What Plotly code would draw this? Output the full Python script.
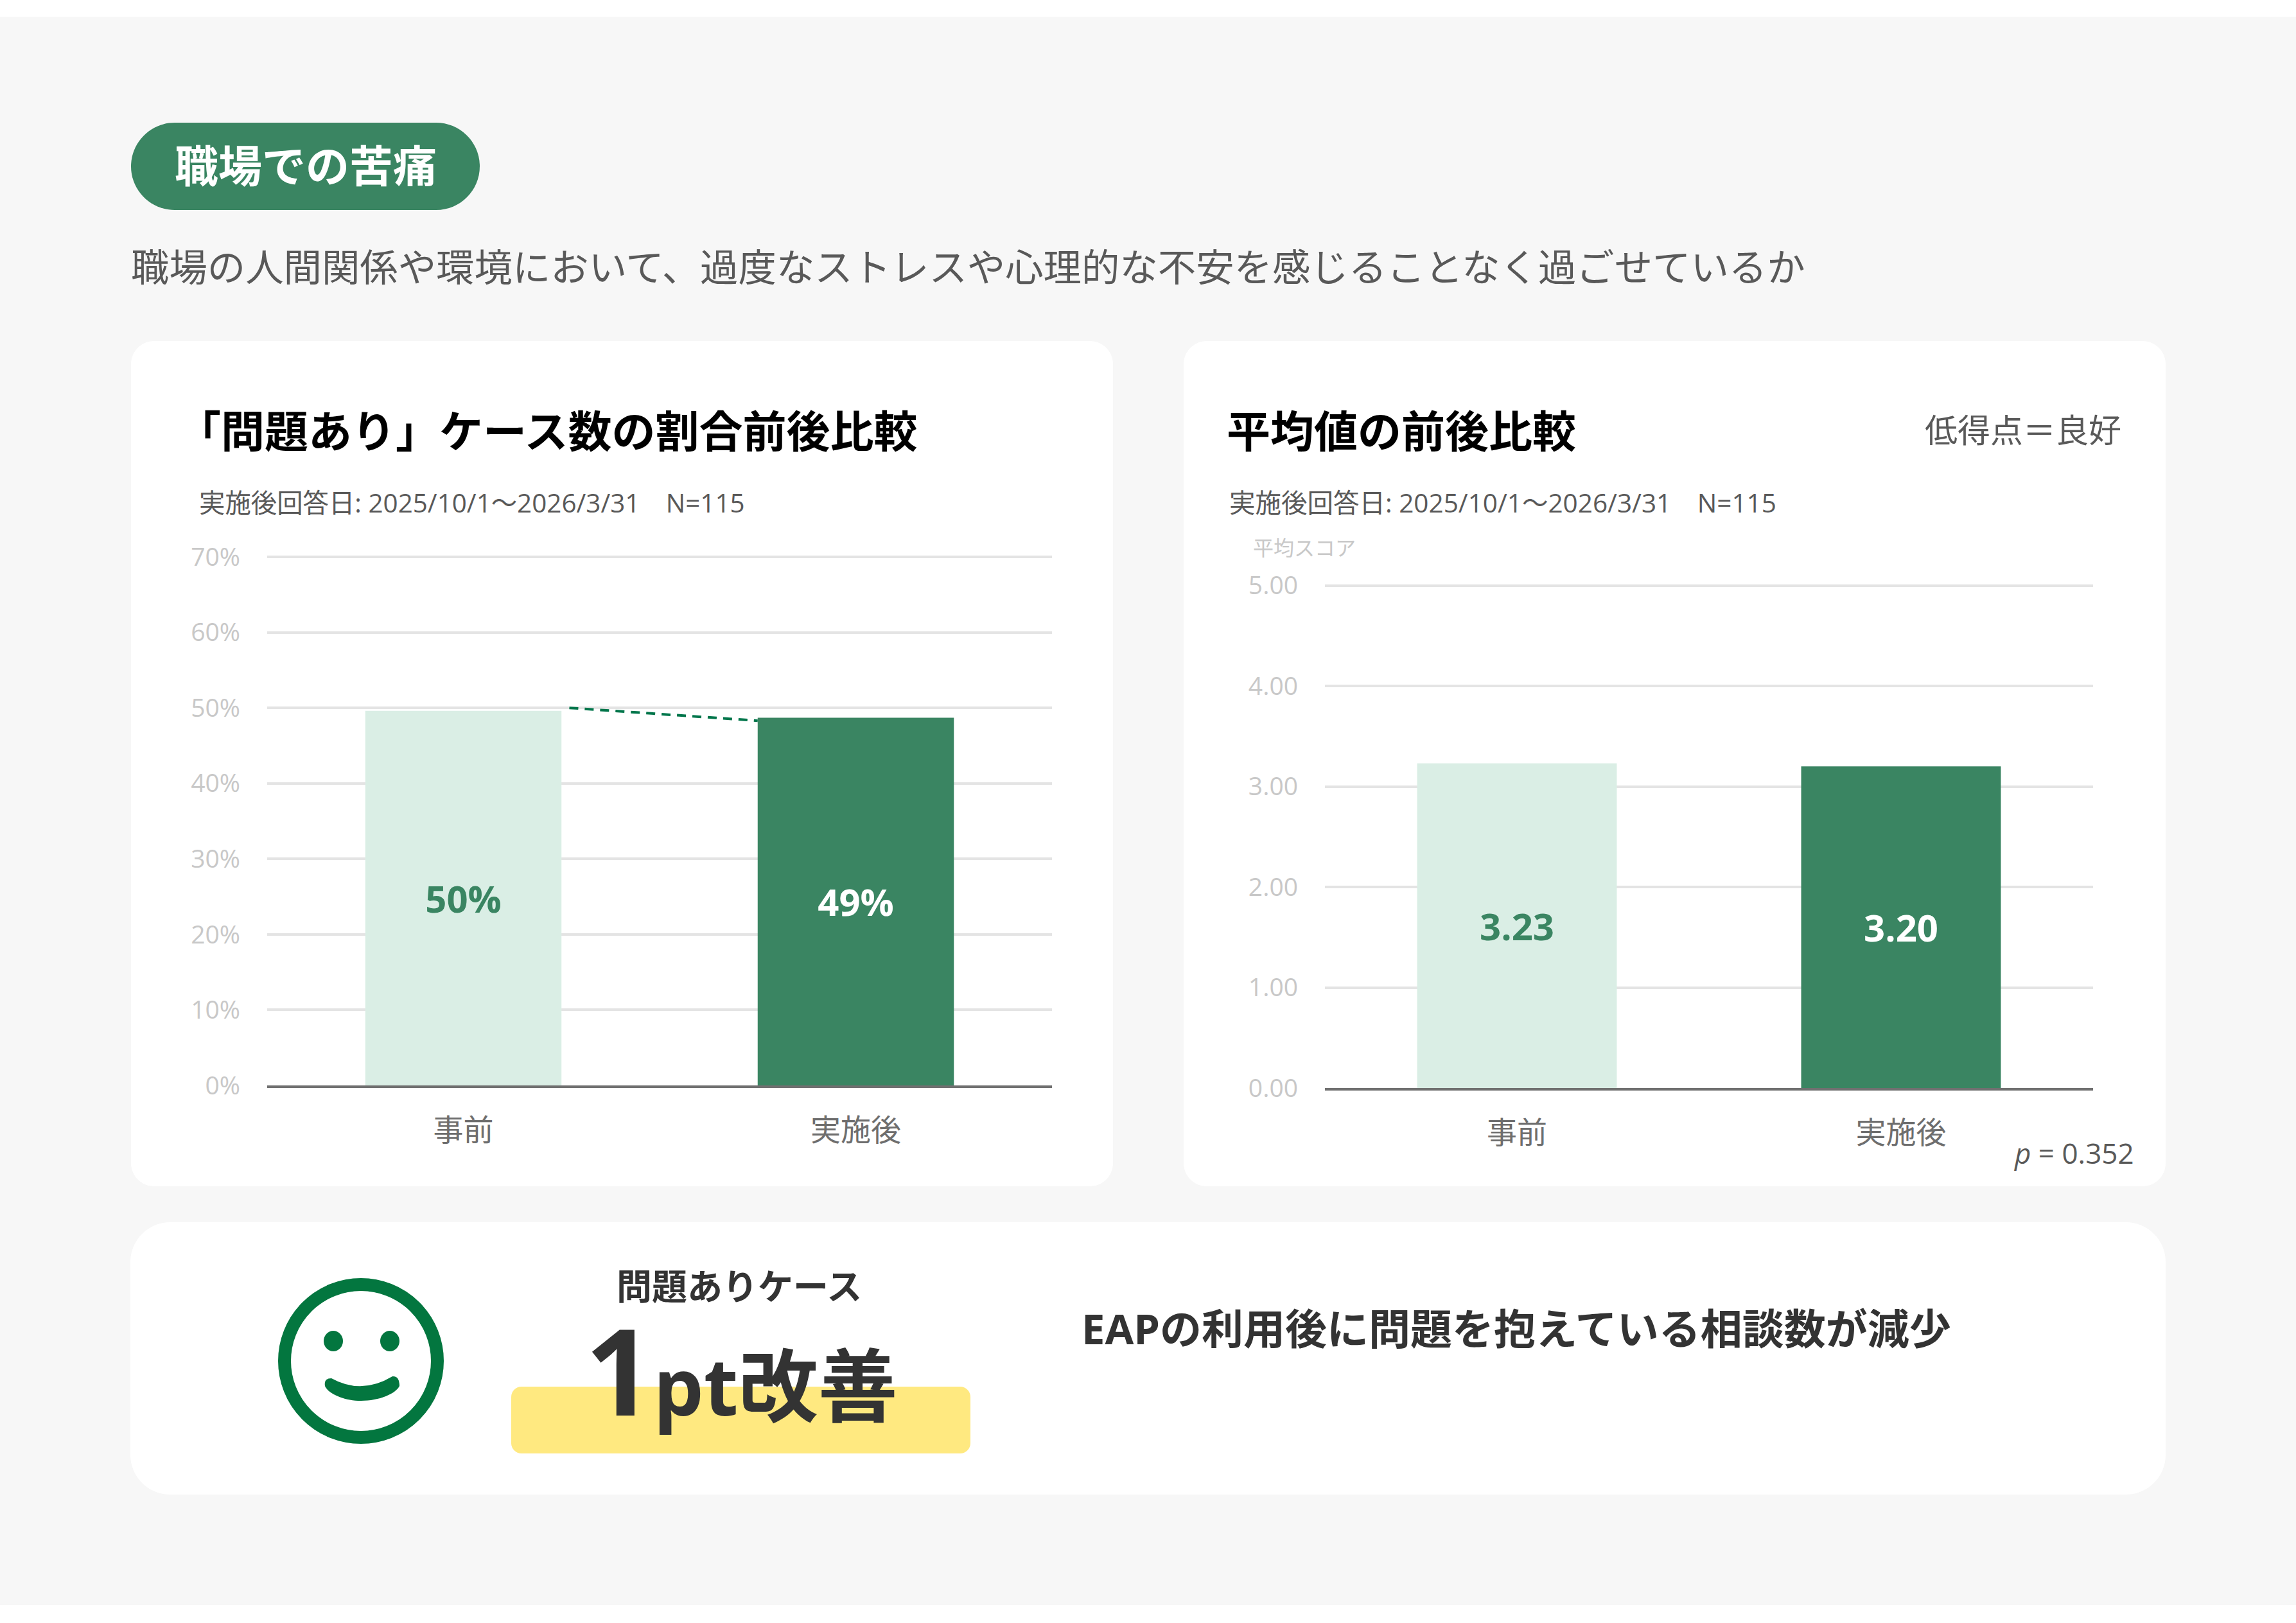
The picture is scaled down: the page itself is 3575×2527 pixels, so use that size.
import plotly.graph_objects as go

W = 3575
H = 2527
FONT = "Open Sans, Noto Sans CJK JP"

# data
categories = ["事前", "実施後"]
bar_positions = [0, 1]

rate_values = [49.6, 48.7]
rate_labels = ["50%", "49%"]
rate_ticks = [0, 10, 20, 30, 40, 50, 60, 70]
rate_ticktext = ["0%", "10%", "20%", "30%", "40%", "50%", "60%", "70%"]

# dashed connector between the two bars
connector_x = [0.27, 0.75]
connector_y = [50.0, 48.3]

mean_values = [3.23, 3.20]
mean_labels = ["3.23", "3.20"]
mean_ticks = [0, 1, 2, 3, 4, 5]
mean_ticktext = ["0.00", "1.00", "2.00", "3.00", "4.00", "5.00"]

LIGHT = "#DAEEE5"
DARK = "#3A8562"
bar_colors = [LIGHT, DARK]
label_colors = [DARK, "#FFFFFF"]


def fx(x):
    return x / W


def fy(y):
    return 1 - y / H


def round_rect(x0, y0, x1, y1, r, color):
    # rounded box given in page pixels, corners as bezier quarter circles
    k = r * 0.448

    def pt(x, y):
        return "%f,%f" % (fx(x), fy(y))

    p = "M " + pt(x0 + r, y0)
    p += " L " + pt(x1 - r, y0)
    p += " C " + pt(x1 - k, y0) + " " + pt(x1, y0 + k) + " " + pt(x1, y0 + r)
    p += " L " + pt(x1, y1 - r)
    p += " C " + pt(x1, y1 - k) + " " + pt(x1 - k, y1) + " " + pt(x1 - r, y1)
    p += " L " + pt(x0 + r, y1)
    p += " C " + pt(x0 + k, y1) + " " + pt(x0, y1 - k) + " " + pt(x0, y1 - r)
    p += " L " + pt(x0, y0 + r)
    p += " C " + pt(x0, y0 + k) + " " + pt(x0 + k, y0) + " " + pt(x0 + r, y0) + " Z"
    return dict(type="path", xref="paper", yref="paper", path=p,
                fillcolor=color, line=dict(width=0), layer="below")


def oval(cx, cy, rx, ry, fill, line_w=0, line_c="rgba(0,0,0,0)"):
    return dict(type="circle", xref="paper", yref="paper",
                x0=fx(cx - rx), x1=fx(cx + rx), y0=fy(cy + ry), y1=fy(cy - ry),
                fillcolor=fill, line=dict(width=line_w, color=line_c), layer="below")


def note(text, x, y, size, color, weight=400, anchor="left", va="middle"):
    return dict(text=text, x=fx(x), y=fy(y), xref="paper", yref="paper",
                xanchor=anchor, yanchor=va, showarrow=False,
                font=dict(family=FONT, size=size, color=color, weight=weight))


GREEN = "#03763F"

# smile drawn as a path, page pixels
pts = [("M", 516, 2146), ("Q", 563, 2172, 611, 2143), ("Q", 622, 2142, 622, 2158),
       ("C", 616, 2170, 591, 2181, 562, 2181), ("C", 536, 2181, 511, 2170, 506, 2158),
       ("Q", 504, 2146, 516, 2146)]
smile = ""
for seg in pts:
    coords = seg[1:]
    pairs = ["%f,%f" % (fx(coords[i]), fy(coords[i + 1])) for i in range(0, len(coords), 2)]
    smile += seg[0] + " " + " ".join(pairs) + " "
smile += "Z"

shapes = [
    dict(type="rect", xref="paper", yref="paper", x0=0, x1=1, y0=fy(2499), y1=fy(26),
         fillcolor="#F7F7F7", line=dict(width=0), layer="below"),
    round_rect(204, 191, 747, 327, 68, DARK),
    round_rect(204, 531, 1733, 1847, 36, "#FFFFFF"),
    round_rect(1843, 531, 3372, 1847, 36, "#FFFFFF"),
    round_rect(203, 1903, 3372, 2327, 62, "#FFFFFF"),
    round_rect(796, 2159, 1511, 2263, 16, "#FFE980"),
    oval(562, 2119, 119, 119, "rgba(0,0,0,0)", 20, GREEN),
    oval(519, 2088, 15, 16, GREEN),
    oval(607, 2088, 15, 16, GREEN),
    dict(type="path", xref="paper", yref="paper", path=smile, fillcolor=GREEN,
         line=dict(width=0), layer="below"),
]

SUB = "実施後回答日: 2025/10/1～2026/3/31　N=115"
annotations = [
    note("職場での苦痛", 270, 258, 68, "#FFFFFF", 700),
    note("職場の人間関係や環境において、過度なストレスや心理的な不安を感じることなく過ごせているか",
         202, 415, 59.4, "#595959"),
    note("「問題あり」ケース数の割合前後比較", 274, 670, 68, "#000000", 700),
    note(SUB, 308, 782, 40.4, "#595959"),
    note("平均値の前後比較", 1908, 670, 68, "#000000", 700),
    note(SUB, 1912, 782, 40.5, "#595959"),
    note("低得点＝良好", 3305, 669, 51, "#595959", 400, "right"),
    note("平均スコア", 1949, 853, 32, "#C8C8C8"),
    note("<i>p</i> = 0.352", 3325, 1795, 44, "#595959", 400, "right"),
    note("問題ありケース", 1151, 2001, 55, "#333333", 700, "center"),
    note('<span style="font-size:186px">1</span>pt改善', 1154, 2131, 124, "#333333", 700, "center"),
    note("EAPの利用後に問題を抱えている相談数が減少", 1682, 2068, 65, "#333333", 700),
]

fig = go.Figure()

fig.add_trace(go.Bar(x=bar_positions, y=rate_values, width=0.5, marker=dict(color=bar_colors, line=dict(width=0)),
                     text=rate_labels, textposition="inside", insidetextanchor="middle", textangle=0,
                     constraintext="none",
                     textfont=dict(family=FONT, size=58, color=label_colors, weight=700),
                     xaxis="x", yaxis="y", showlegend=False))
fig.add_trace(go.Scatter(x=connector_x, y=connector_y, mode="lines",
                         line=dict(color="#00754A", width=4, dash="14px,10px"),
                         xaxis="x", yaxis="y", showlegend=False))
fig.add_trace(go.Bar(x=bar_positions, y=mean_values, width=0.52, marker=dict(color=bar_colors, line=dict(width=0)),
                     text=mean_labels, textposition="inside", insidetextanchor="middle", textangle=0,
                     constraintext="none",
                     textfont=dict(family=FONT, size=58, color=label_colors, weight=700),
                     xaxis="x2", yaxis="y2", showlegend=False))

x_common = dict(range=[-0.5, 1.5], tickvals=bar_positions, ticktext=categories, showgrid=False,
                zeroline=False, showline=True, linecolor="#707070", linewidth=4, ticks="", automargin=False,
                ticklabelstandoff=26, tickfont=dict(family=FONT, size=47, color="#6E6E6E"))
y_common = dict(showgrid=True, gridcolor="#E4E4E4", gridwidth=4, zeroline=False, showline=False, ticks="",
                automargin=False, ticklabelstandoff=41, tickfont=dict(family=FONT, size=39, color="#C8C8C8"))

# the y ranges run a little past the top tick so plotly keeps that gridline:
# 3px on the page on both charts, added to the domains as well
rate_top = 70 + 3 * 70 / (1691 - 868)
mean_top = 5 + 3 * 5 / (1695 - 912.5)

fig.update_layout(
    width=W, height=H, autosize=False,
    margin=dict(l=0, r=0, t=0, b=0),
    paper_bgcolor="#FFFFFF", plot_bgcolor="rgba(0,0,0,0)",
    shapes=shapes, annotations=annotations,
    xaxis=dict(domain=[fx(416), fx(1638)], anchor="y", **x_common),
    yaxis=dict(domain=[fy(1690), fy(864)], anchor="x", range=[0, rate_top],
               tickvals=rate_ticks, ticktext=rate_ticktext, **y_common),
    xaxis2=dict(domain=[fx(2063), fx(3259)], anchor="y2", **x_common),
    yaxis2=dict(domain=[fy(1694), fy(908.5)], anchor="x2", range=[0, mean_top],
                tickvals=mean_ticks, ticktext=mean_ticktext, **y_common),
)

fig.write_html("out.html", post_script="document.body.style.margin='0';",
               config={"displayModeBar": False})
